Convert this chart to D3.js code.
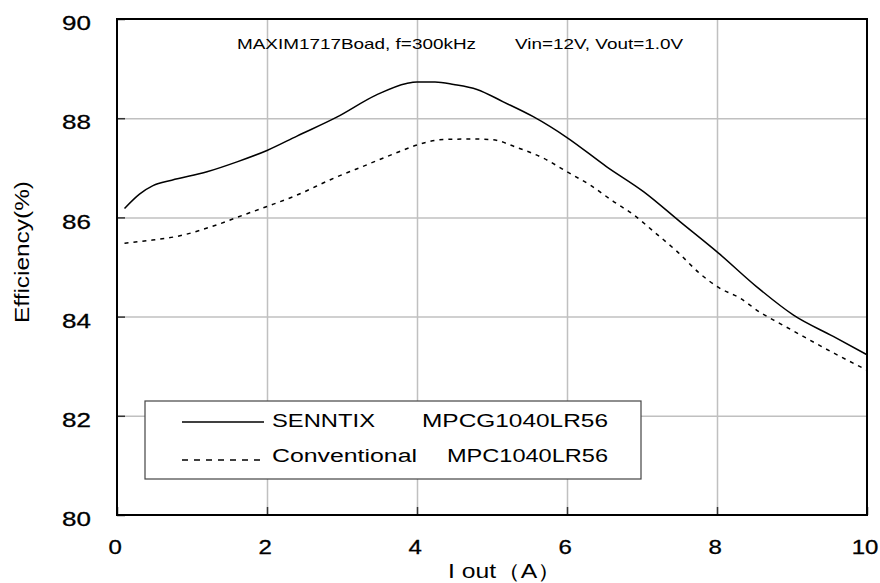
<!DOCTYPE html>
<html>
<head>
<meta charset="utf-8">
<script src="https://cdn.jsdelivr.net/npm/d3@7"></script>
<style>
  body { margin: 0; background: #fff; }
  svg { display: block; font-family: "Liberation Sans", Arial, sans-serif; }
</style>
</head>
<body>
<script>
// data: Iout (A) vs efficiency (%)
var senntixX = [0.1, 0.3, 0.48, 0.73, 1.2, 1.6, 2.0, 2.4, 2.93, 3.46, 3.86, 4.0, 4.24, 4.49, 4.8, 5.15, 5.55, 6.0, 6.53, 7.02, 7.51, 8.02, 8.53, 9.02, 9.55, 10.0];
var senntixY = [86.18, 86.47, 86.64, 86.75, 86.92, 87.12, 87.35, 87.64, 88.02, 88.47, 88.70, 88.73, 88.73, 88.68, 88.58, 88.33, 88.03, 87.61, 87.02, 86.52, 85.91, 85.28, 84.60, 84.03, 83.60, 83.23];

var convX = [0.1, 0.4, 0.84, 1.33, 1.69, 2.0, 2.4, 2.86, 3.33, 3.77, 4.0, 4.35, 4.71, 4.99, 5.33, 5.69, 6.0, 6.31, 6.62, 6.89, 7.16, 7.47, 7.77, 8.04, 8.31, 8.57, 8.84, 9.15, 9.55, 10.0];
var convY = [85.48, 85.53, 85.63, 85.85, 86.05, 86.22, 86.45, 86.77, 87.06, 87.33, 87.46, 87.57, 87.58, 87.57, 87.41, 87.19, 86.92, 86.65, 86.32, 86.05, 85.71, 85.31, 84.87, 84.57, 84.37, 84.09, 83.86, 83.60, 83.27, 82.92];

var xTicks = [0, 2, 4, 6, 8, 10];
var yTicks = [80, 82, 84, 86, 88, 90];

var titleLeft = "MAXIM1717Boad, f=300kHz";
var titleRight = "Vin=12V, Vout=1.0V";
var legendNames = ["SENNTIX", "Conventional"];
var legendParts = ["MPCG1040LR56", "MPC1040LR56"];

function drawChart () {
    var width = 880, height = 583;
    var left = 117, right = 867, top = 19, bottom = 515;

    var svg = d3.select("body").append("svg")
        .attr("width", width)
        .attr("height", height);

    var x = d3.scaleLinear().domain([0, 10]).range([left, right]);
    var y = d3.scaleLinear().domain([80, 90]).range([bottom, top]);

    ////////////////////////////
    // grid lines
    svg.append("g")
        .attr("transform", "translate(0," + bottom + ")")
        .call(d3.axisBottom(x).tickValues(xTicks.slice(1, -1)).tickSize(-(bottom - top)).tickFormat(""))
        .call(function (g) { g.select(".domain").remove(); })
        .selectAll("line").attr("stroke", "#c0c0c0").attr("stroke-width", 1.5);

    svg.append("g")
        .attr("transform", "translate(" + left + ",0)")
        .call(d3.axisLeft(y).tickValues(yTicks.slice(1, -1)).tickSize(-(right - left)).tickFormat(""))
        .call(function (g) { g.select(".domain").remove(); })
        .selectAll("line").attr("stroke", "#c0c0c0").attr("stroke-width", 1.5);

    ////////////////////////////
    // axes with inner ticks and stretched labels
    var xAxis = svg.append("g")
        .attr("transform", "translate(0," + bottom + ")")
        .call(d3.axisBottom(x).tickValues(xTicks).tickSize(-8).tickPadding(0));
    xAxis.select(".domain").remove();
    xAxis.selectAll("line").attr("stroke", "#333").attr("stroke-width", 1.5);
    xAxis.selectAll("text")
        .attr("y", 25)
        .attr("x", -2)
        .attr("font-size", "20px")
        .attr("fill", "#000")
        .attr("stroke", "#000").attr("stroke-width", 0.3)
        .attr("transform", "scale(1.2,1)");

    var yAxis = svg.append("g")
        .attr("transform", "translate(" + left + ",0)")
        .call(d3.axisLeft(y).tickValues(yTicks).tickSize(-8).tickPadding(0));
    yAxis.select(".domain").remove();
    yAxis.selectAll("line").attr("stroke", "#333").attr("stroke-width", 1.5);
    yAxis.selectAll("text")
        .attr("x", -20)
        .attr("dy", "0.53em")
        .attr("font-size", "20px")
        .attr("fill", "#000")
        .attr("stroke", "#000").attr("stroke-width", 0.3)
        .attr("transform", "scale(1.3,1)");

    // frame
    svg.append("rect")
        .attr("x", left).attr("y", top)
        .attr("width", right - left).attr("height", bottom - top)
        .attr("fill", "none")
        .attr("stroke", "#000")
        .attr("stroke-width", 2);

    ////////////////////////////
    // curves
    var line = d3.line()
        .x(function (d) { return x(d[0]); })
        .y(function (d) { return y(d[1]); })
        .curve(d3.curveMonotoneX);

    svg.append("path")
        .datum(d3.zip(senntixX, senntixY))
        .attr("d", line)
        .attr("fill", "none")
        .attr("stroke", "#000")
        .attr("stroke-width", 1.5);

    svg.append("path")
        .datum(d3.zip(convX, convY))
        .attr("d", line)
        .attr("fill", "none")
        .attr("stroke", "#000")
        .attr("stroke-width", 1.5)
        .attr("stroke-dasharray", "4,5");

    ////////////////////////////
    // title
    svg.append("text")
        .attr("x", 237).attr("y", 49)
        .attr("font-size", "15px")
        .attr("textLength", 239).attr("lengthAdjust", "spacingAndGlyphs")
        .text(titleLeft);
    svg.append("text")
        .attr("x", 515).attr("y", 49)
        .attr("font-size", "15px")
        .attr("textLength", 168).attr("lengthAdjust", "spacingAndGlyphs")
        .text(titleRight);

    ////////////////////////////
    // axis titles
    svg.append("text")
        .attr("x", 448).attr("y", 578)
        .attr("font-size", "20px")
        .attr("textLength", 114).attr("lengthAdjust", "spacingAndGlyphs")
        .text("I out（A）");

    svg.append("text")
        .attr("transform", "translate(29,323) rotate(-90)")
        .attr("font-size", "20px")
        .attr("textLength", 142).attr("lengthAdjust", "spacingAndGlyphs")
        .text("Efficiency(%)");

    ////////////////////////////
    // legend
    svg.append("rect")
        .attr("x", 145).attr("y", 401)
        .attr("width", 496).attr("height", 78)
        .attr("fill", "#fff")
        .attr("stroke", "#444")
        .attr("stroke-width", 1.2);

    var legY = [422, 460], baseY = [427, 462];
    var nameW = [103, 145], partX = [422, 447], partW = [186, 161];

    legY.forEach(function (ly, i) {
        svg.append("line")
            .attr("x1", 182).attr("x2", 264)
            .attr("y1", ly).attr("y2", ly)
            .attr("stroke", "#000")
            .attr("stroke-width", 1.5)
            .attr("stroke-dasharray", i === 1 ? "6,6" : null);
        svg.append("text")
            .attr("x", 272).attr("y", baseY[i])
            .attr("font-size", "18px")
            .attr("textLength", nameW[i]).attr("lengthAdjust", "spacingAndGlyphs")
            .text(legendNames[i]);
        svg.append("text")
            .attr("x", partX[i]).attr("y", baseY[i])
            .attr("font-size", "18px")
            .attr("textLength", partW[i]).attr("lengthAdjust", "spacingAndGlyphs")
            .text(legendParts[i]);
    });
}

drawChart();
</script>
</body>
</html>
